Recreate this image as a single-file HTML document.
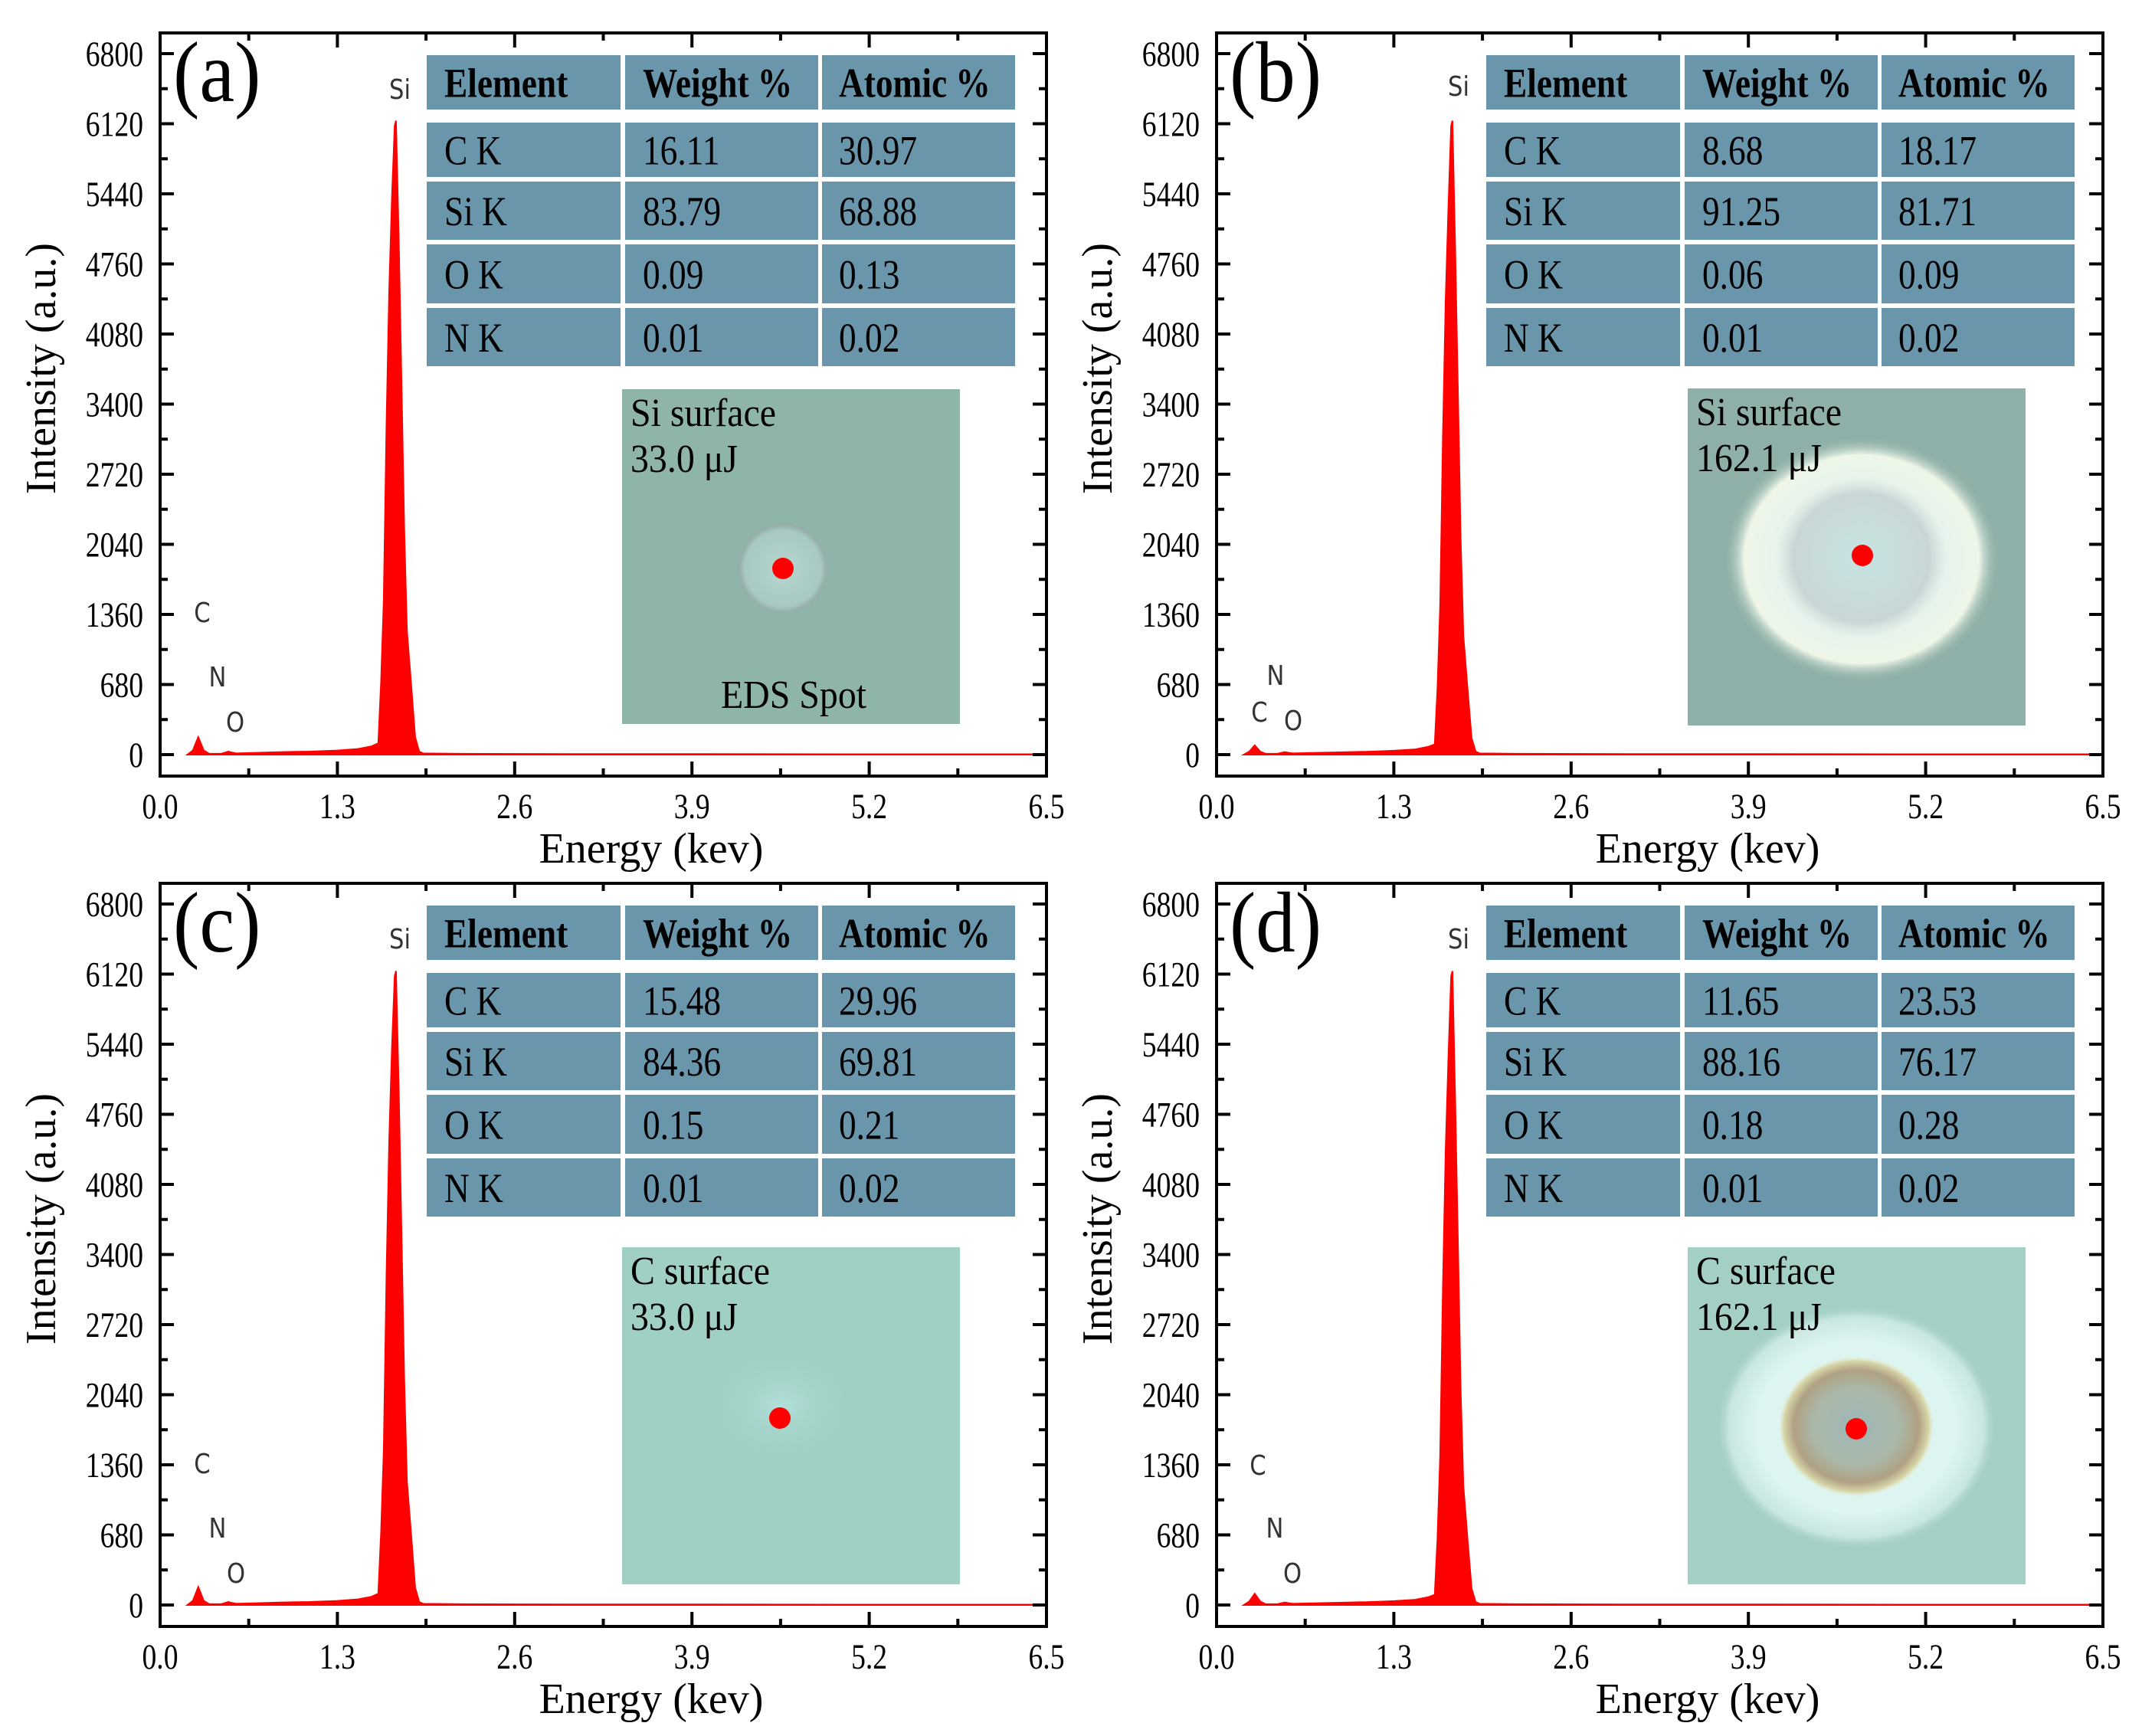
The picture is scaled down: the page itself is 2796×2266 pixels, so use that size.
<!DOCTYPE html>
<html><head><meta charset="utf-8"><style>
html,body{margin:0;padding:0;background:#fff;}
svg{display:block;}
</style></head><body>
<svg id="fig" xmlns="http://www.w3.org/2000/svg" width="2796" height="2266" viewBox="0 0 2796 2266">
<rect x="0" y="0" width="2796" height="2266" fill="#fff"/>
<defs>
<radialGradient id="glowB" cx="50%" cy="50%" r="50%">
<stop offset="0" stop-color="#d8f0ea"/><stop offset="0.6" stop-color="#e6f3ec"/><stop offset="0.85" stop-color="#eef6e8"/><stop offset="1" stop-color="#8fb0a8" stop-opacity="0"/>
</radialGradient>
<radialGradient id="innerB" cx="50%" cy="50%" r="50%">
<stop offset="0" stop-color="#c6e4e2"/><stop offset="0.8" stop-color="#c9d6d6"/><stop offset="1" stop-color="#d5e2dc" stop-opacity="0"/>
</radialGradient>
<radialGradient id="glowD" cx="50%" cy="50%" r="50%">
<stop offset="0" stop-color="#d9f3ef"/><stop offset="0.7" stop-color="#def5f1"/><stop offset="0.9" stop-color="#c8e6e0"/><stop offset="1" stop-color="#a3cfc5" stop-opacity="0"/>
</radialGradient>
<radialGradient id="ringD" cx="50%" cy="50%" r="50%">
<stop offset="0" stop-color="#9fb6b8"/><stop offset="0.55" stop-color="#aab8a8"/><stop offset="0.8" stop-color="#b0a184"/><stop offset="0.93" stop-color="#d7d6a8"/><stop offset="1" stop-color="#e8f0d8" stop-opacity="0"/>
</radialGradient>
<radialGradient id="glowA" cx="50%" cy="50%" r="50%">
<stop offset="0" stop-color="#b6d6d0"/><stop offset="0.8" stop-color="#a8c9c2"/><stop offset="0.92" stop-color="#96adaa"/><stop offset="1" stop-color="#8fb5aa" stop-opacity="0"/>
</radialGradient>
<radialGradient id="glowC" cx="50%" cy="50%" r="50%">
<stop offset="0" stop-color="#b2e0da"/><stop offset="1" stop-color="#a0cfc4" stop-opacity="0"/>
</radialGradient>
</defs>
<g id="root"></g>
</svg>
<script>
// ---- data ----
const energy = [0.20,0.24,0.28,0.32,0.36,0.45,0.50,0.53,0.56,0.70,0.90,1.10,1.30,1.45,1.55,1.60,1.62,1.64,1.66,1.68,1.70,1.72,1.73,1.75,1.77,1.79,1.81,1.84,1.87,1.90,1.93,2.20,3.00,4.00,5.00,6.00,6.50];
const countsA = [0,40,170,40,8,10,30,20,12,18,25,30,40,55,80,110,700,1500,3200,4500,5400,6100,6150,5000,3600,2200,1200,700,170,30,12,8,6,5,4,4,4];
const countsB = [0,30,90,30,8,10,25,18,12,16,22,28,38,50,75,100,650,1450,3100,4400,5300,6100,6150,4900,3500,2100,1150,650,160,30,12,8,6,5,4,4,4];
const countsC = [0,40,175,40,8,10,30,20,12,18,25,30,40,55,80,110,700,1500,3200,4500,5400,6100,6150,5000,3600,2200,1200,700,170,30,12,8,6,5,4,4,4];
const countsD = [0,35,110,35,8,10,25,18,12,16,22,28,38,50,75,100,650,1450,3100,4400,5300,6100,6150,4900,3500,2100,1150,650,160,30,12,8,6,5,4,4,4];
const yTicks = [0,680,1360,2040,2720,3400,4080,4760,5440,6120,6800];
const xTicks = [0.0,1.3,2.6,3.9,5.2,6.5];
const xTickLabels = ["0.0","1.3","2.6","3.9","5.2","6.5"];
const tableHeader = ["Element","Weight %","Atomic %"];
const rowLabels = ["C K","Si K","O K","N K"];
const weightA = ["16.11","83.79","0.09","0.01"];
const atomicA = ["30.97","68.88","0.13","0.02"];
const weightB = ["8.68","91.25","0.06","0.01"];
const atomicB = ["18.17","81.71","0.09","0.02"];
const weightC = ["15.48","84.36","0.15","0.01"];
const atomicC = ["29.96","69.81","0.21","0.02"];
const weightD = ["11.65","88.16","0.18","0.01"];
const atomicD = ["23.53","76.17","0.28","0.02"];

const NS = "http://www.w3.org/2000/svg";
const root = document.getElementById('root');
function mk(tag, attrs, parent, text){
  const e = document.createElementNS(NS, tag);
  for (const k in attrs) e.setAttribute(k, attrs[k]);
  if (text !== undefined) e.textContent = text;
  (parent||root).appendChild(e);
  return e;
}
const squeezeList = [];
function squeeze(el, f){ squeezeList.push([el, f]); }
const SERIF = '"Liberation Serif", "DejaVu Serif", serif';
const SANS = '"DejaVu Sans", "Liberation Sans", sans-serif';

const panels = [
  {id:'a', dx:0, dy:0, tdx:0, idx:0, counts:countsA, w:weightA, at:atomicA, inset:'a',
   lbl:{C:[264,799],N:[284,883],O:[307,942],Si:[522,116]}, txt:["Si surface","33.0 μJ"]},
  {id:'b', dx:1379, dy:0, tdx:1383, idx:1391, counts:countsB, w:weightB, at:atomicB, inset:'b',
   lbl:{C:[1644,929],N:[1665,881],O:[1688,940],Si:[1904,112]}, txt:["Si surface","162.1 μJ"]},
  {id:'c', dx:0, dy:1110, tdx:0, idx:0, counts:countsC, w:weightC, at:atomicC, inset:'c',
   lbl:{C:[264,1910],N:[284,1994],O:[308,2053],Si:[522,1225]}, txt:["C surface","33.0 μJ"]},
  {id:'d', dx:1379, dy:1110, tdx:1383, idx:1391, counts:countsD, w:weightD, at:atomicD, inset:'d',
   lbl:{C:[1642,1912],N:[1664,1994],O:[1687,2053],Si:[1904,1225]}, txt:["C surface","162.1 μJ"]}
];

panels.forEach(p => {
  const L = 209 + p.dx, R = 1366 + p.dx, T = 43 + p.dy, B = 1013 + p.dy;
  const y0 = 985 + p.dy, yTop = 70 + p.dy;
  const xs = v => L + v * (R - L) / 6.5;
  const ys = v => y0 - v * (y0 - yTop) / 6800;
  const g = mk('g', {});
  
  

  let pts = [[xs(energy[0]), ys(0)]];
  for (let i = 0; i < energy.length; i++) pts.push([xs(energy[i]), ys(p.counts[i])]);
  pts.push([xs(energy[energy.length-1]), ys(0)]);
  const poly = mk('polygon', {points: pts.map(q => q[0].toFixed(1)+','+q[1].toFixed(1)).join(' '), fill:'#ff0000', stroke:'#ff0000', 'stroke-width':'2'}, g);
  
  

  const fr = mk('rect', {x:L, y:T, width:R-L, height:B-T, fill:'none', stroke:'#000', 'stroke-width':'4'}, g);
  
  

  for (let v = 0; v <= 6800; v += 340) {
    const major = (v % 680 === 0);
    const len = major ? 18 : 10;
    mk('line', {x1:L, x2:L+len, y1:ys(v), y2:ys(v), stroke:'#000', 'stroke-width':'4'}, g);
    mk('line', {x1:R, x2:R-len, y1:ys(v), y2:ys(v), stroke:'#000', 'stroke-width':'4'}, g);
  }
  yTicks.forEach(v => {
    const t = mk('text', {x:L-22, y:ys(v)+16, 'text-anchor':'end', 'font-family':SERIF, 'font-size':'47'}, g, String(v));
    
    
    squeeze(t, 0.8);
  });
  for (let k = 0; k <= 10; k++) {
    const v = k * 0.65;
    const major = (k % 2 === 0);
    const len = major ? 19 : 10;
    mk('line', {x1:xs(v), x2:xs(v), y1:B, y2:B-len, stroke:'#000', 'stroke-width':'4'}, g);
    mk('line', {x1:xs(v), x2:xs(v), y1:T, y2:T+len, stroke:'#000', 'stroke-width':'4'}, g);
  }
  xTicks.forEach((v, i) => {
    const t = mk('text', {x:xs(v), y:1068+p.dy, 'text-anchor':'middle', 'font-family':SERIF, 'font-size':'47'}, g, xTickLabels[i]);
    
    
    squeeze(t, 0.8);
  });
  const xt = mk('text', {x:850+p.dx, y:1126+p.dy, 'text-anchor':'middle', 'font-family':SERIF, 'font-size':'56'}, g, 'Energy (kev)');
  
  
  const cy = 481 + p.dy, cx = 72 + p.dx;
  const yt = mk('text', {x:cx, y:cy, 'text-anchor':'middle', 'font-family':SERIF, 'font-size':'56', transform:'rotate(-90 '+cx+' '+cy+')'}, g, 'Intensity (a.u.)');
  
  
  const pl = mk('text', {x:226+p.dx, y:132+p.dy, 'font-family':SERIF, 'font-size':'112'}, g, '('+p.id+')');
  
  
  squeeze(pl, 0.92);

  for (const k in p.lbl) {
    const e = mk('text', {x:p.lbl[k][0], y:p.lbl[k][1]+13, 'text-anchor':'middle', 'font-family':SANS, 'font-size':'36', fill:'#333'}, g, k);
    
    
    squeeze(e, 0.85);
  }

  const tg = mk('g', {}, g);
  
  
  const cols = [[557,810],[816,1068],[1073,1325]];
  const rows = [[72,143],[160,231],[237,313],[319,396],[402,478]];
  const textX = [580,839,1095];
  rows.forEach((r, ri) => {
    cols.forEach((c, ci) => {
      mk('rect', {x:c[0]+p.tdx, y:r[0]+p.dy, width:c[1]-c[0], height:r[1]-r[0], fill:'#6a96ac'}, tg);
      let s;
      if (ri === 0) s = tableHeader[ci];
      else s = ci === 0 ? rowLabels[ri-1] : (ci === 1 ? p.w[ri-1] : p.at[ri-1]);
      const t = mk('text', {x:textX[ci]+p.tdx, y:(r[0]+r[1])/2+19+p.dy, 'font-family':SERIF, 'font-size':'54', 'font-weight': ri===0?'bold':'normal', fill:'#000'}, tg, s);
      
      
      squeeze(t, 0.84);
    });
  });

  const ig = mk('g', {}, g);
  
  
  const ix = 812 + p.idx, iy = (p.id==='a'?508:(p.id==='b'?507:1628)), iw = 441, ih = (p.id==='a'?437:440);
  let dot;
  if (p.inset === 'a') {
    mk('rect', {x:ix, y:iy, width:iw, height:ih, fill:'#8fb5aa'}, ig);
    mk('ellipse', {cx:1022, cy:742, rx:62, ry:62, fill:'url(#glowA)'}, ig);
    dot = [1022, 742];
  } else if (p.inset === 'b') {
    mk('rect', {x:ix, y:iy, width:iw, height:ih, fill:'#8fb0a8'}, ig);
    mk('ellipse', {cx:2430, cy:730, rx:180, ry:160, fill:'url(#glowB)'}, ig);
    mk('ellipse', {cx:2430, cy:728, rx:112, ry:105, fill:'url(#innerB)'}, ig);
    dot = [2431, 725];
  } else if (p.inset === 'c') {
    mk('rect', {x:ix, y:iy, width:iw, height:ih, fill:'#a0cfc4'}, ig);
    mk('ellipse', {cx:1020, cy:1835, rx:100, ry:75, fill:'url(#glowC)'}, ig);
    dot = [1018, 1851];
  } else {
    mk('rect', {x:ix, y:iy, width:iw, height:ih, fill:'#a3cfc5'}, ig);
    mk('ellipse', {cx:2423, cy:1863, rx:185, ry:160, fill:'url(#glowD)'}, ig);
    mk('ellipse', {cx:2423, cy:1862, rx:102, ry:92, fill:'url(#ringD)'}, ig);
    dot = [2423, 1865];
  }
  const t1 = mk('text', {x:ix+11, y:iy+48, 'font-family':SERIF, 'font-size':'52'}, ig, p.txt[0]);
  const t2 = mk('text', {x:ix+11, y:iy+108, 'font-family':SERIF, 'font-size':'52'}, ig, p.txt[1]);
  squeeze(t1, 0.92); squeeze(t2, 0.92);
  if (p.inset === 'a') {
    const eds = mk('text', {x:1036, y:924, 'text-anchor':'middle', 'font-family':SERIF, 'font-size':'52'}, ig, 'EDS Spot');
    
    
    squeeze(eds, 0.92);
  }
  const dc = mk('circle', {cx:dot[0], cy:dot[1], r:14, fill:'#ff0000'}, ig);
  
  
});

squeezeList.forEach(([el, f]) => {
  const len = el.getComputedTextLength();
  if (len > 0) {
    el.setAttribute('textLength', (len * f).toFixed(1));
    el.setAttribute('lengthAdjust', 'spacingAndGlyphs');
  }
});
</script>
</body></html>
